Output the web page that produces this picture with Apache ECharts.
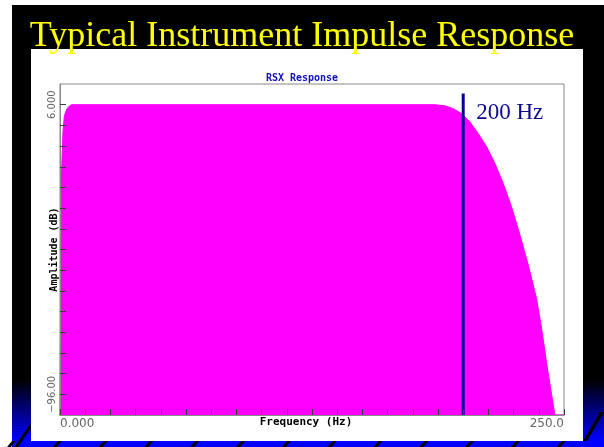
<!DOCTYPE html>
<html>
<head>
<meta charset="utf-8">
<title>Typical Instrument Impulse Response</title>
<script src="https://cdn.jsdelivr.net/npm/echarts@6.0.0/dist/echarts.min.js"></script>
<style>
  html, body { margin: 0; padding: 0; background: #fff; }
  #chart { width: 604px; height: 447px; }
</style>
</head>
<body>
<div id="chart"></div>
<script>
// response curve
var freqHz = [0, 0.35, 0.75, 1.15, 1.5, 2.2, 3.5, 5.0, 6.0, 186.0, 191.0, 195.1, 199.3, 203.4, 207.5, 211.7, 215.8, 219.9, 224.0, 228.2, 232.3, 236.4, 238.9, 241.3, 243.9, 245.5, 250];
var ampDb = [-103.3, -103.3, -18.3, -10.2, -3.0, 2.2, 4.7, 5.75, 6.0, 6.0, 5.6, 4.6, 2.8, -0.1, -4.2, -8.9, -14.8, -21.8, -30.0, -40.0, -50.5, -62.3, -72.8, -84.6, -96.3, -103.3, -103.3];

var markerHz = 200;
var markerTopDb = 9.9;
var markerLabel = '200 Hz';

var xTickLabels = [0, 250];
var xTickStep = 12.5;
var yTickLabels = [6, -96];
var yTickCount = 14;

var xTicks = [];
for (var t = xTickLabels[0]; t <= xTickLabels[1]; t += xTickStep) {
  xTicks.push(t);
}
var yStep = (yTickLabels[0] - yTickLabels[1]) / yTickCount;
var yMin = yTickLabels[1] - yStep;
var yMax = yTickLabels[0] + yStep;
var yTicks = [];
for (var i = 0; i <= yTickCount; i++) {
  yTicks.push(yTickLabels[1] + i * yStep);
}

var curve = freqHz.map(function (f, i) { return [f, ampDb[i]]; });

function fmt(v) {
  return Number(v).toPrecision(4).replace('-', '\u2212');
}

// slide decoration: black frame, blue corners, striped bottom edge
var deco = [
  { type: 'rect', z: -10, shape: { x: 12, y: 5, width: 592, height: 442 }, style: { fill: '#000' } },
  { type: 'rect', z: -9, shape: { x: 12, y: 380, width: 19, height: 61 },
    style: { fill: new echarts.graphic.LinearGradient(0, 0, 0, 1, [{ offset: 0, color: '#000' }, { offset: 1, color: '#0000ff' }]) } },
  { type: 'rect', z: -9, shape: { x: 583, y: 380, width: 21, height: 61 },
    style: { fill: new echarts.graphic.LinearGradient(0, 0, 0, 1, [{ offset: 0, color: '#000' }, { offset: 1, color: '#0000ff' }]) } },
  { type: 'rect', z: -9, shape: { x: 12, y: 441, width: 592, height: 6 }, style: { fill: '#0000ff' } }
];
for (var sx = 11; sx < 604; sx += 45.8) {
  deco.push({ type: 'polygon', z: -8, shape: { points: [[sx - 4, 447], [sx + 1, 441], [sx + 5, 441], [sx, 447]] }, style: { fill: '#000' } });
}
deco.push({ type: 'polygon', z: -8, shape: { points: [[14, 447], [31, 423], [31, 428], [18, 447]] }, style: { fill: '#000' } });
deco.push({ type: 'polygon', z: -8, shape: { points: [[583, 441], [600, 412], [604, 412], [587, 441]] }, style: { fill: '#000' } });
deco.push({ type: 'rect', z: -7, shape: { x: 31, y: 49, width: 552, height: 392 }, style: { fill: '#fff' } });

var chart = echarts.init(document.getElementById('chart'), null, { renderer: 'canvas' });

chart.setOption({
  animation: false,
  graphic: deco,
  title: [{
    text: 'Typical Instrument Impulse Response',
    left: 'center',
    top: 19,
    padding: [0, 0, 0, 15],
    textStyle: { color: '#ffff00', fontFamily: 'Liberation Serif', fontWeight: 'normal', fontSize: 36 }
  }, {
    text: 'RSX Response',
    left: 'center',
    top: 73,
    padding: [0, 0, 0, 10],
    textStyle: { color: '#1010c0', fontFamily: 'DejaVu Sans Mono', fontWeight: 'bold', fontSize: 10 }
  }],
  grid: {
    left: 60,
    right: 40,
    top: 84,
    bottom: 32,
    show: true,
    borderColor: '#888',
    borderWidth: 1,
    backgroundColor: 'transparent'
  },
  xAxis: {
    type: 'value',
    min: xTickLabels[0],
    max: xTickLabels[1],
    interval: xTickStep,
    z: 5,
    name: 'Frequency (Hz)',
    nameLocation: 'middle',
    nameGap: 2,
    nameMoveOverlap: false,
    nameTextStyle: { color: '#000', fontFamily: 'DejaVu Sans Mono', fontWeight: 'bold', fontSize: 11, padding: [0, 12, 0, 0] },
    axisLine: { show: true, onZero: false, lineStyle: { color: '#888', width: 1 } },
    axisTick: { show: true, inside: true, length: 6, customValues: xTicks, lineStyle: { color: '#3c3c3c', width: 1 } },
    axisLabel: {
      customValues: xTickLabels,
      margin: 3,
      color: '#666',
      fontFamily: 'DejaVu Sans',
      fontSize: 12,
      alignMinLabel: 'left',
      alignMaxLabel: 'right',
      formatter: fmt
    },
    splitLine: { show: false }
  },
  yAxis: {
    type: 'value',
    min: yMin,
    max: yMax,
    z: 5,
    name: 'Amplitude (dB)',
    nameLocation: 'middle',
    nameRotate: 90,
    nameGap: 1,
    nameMoveOverlap: false,
    nameTextStyle: { color: '#000', fontFamily: 'DejaVu Sans Mono', fontWeight: 'bold', fontSize: 10 },
    axisLine: { show: true, lineStyle: { color: '#888', width: 1 } },
    axisTick: { show: true, inside: true, length: 6, customValues: yTicks, lineStyle: { color: '#3c3c3c', width: 1 } },
    axisLabel: {
      customValues: yTickLabels,
      rotate: 90,
      margin: 3,
      color: '#666',
      fontFamily: 'DejaVu Sans',
      fontSize: 10,
      formatter: fmt
    },
    splitLine: { show: false }
  },
  series: [{
    name: 'RSX Response',
    type: 'line',
    data: curve,
    showSymbol: false,
    z: 2,
    lineStyle: { color: '#ff00ff', width: 1 },
    itemStyle: { color: '#ff00ff' },
    areaStyle: { color: '#ff00ff', opacity: 1, origin: 'start' }
  }, {
    name: markerLabel,
    type: 'line',
    data: [[markerHz, yMin], [markerHz, markerTopDb]],
    showSymbol: false,
    symbol: 'none',
    z: 3,
    lineStyle: { color: '#000099', width: 3 },
    endLabel: {
      show: true,
      distance: 0,
      offset: [13, 19],
      formatter: markerLabel,
      color: '#0a0a90',
      fontFamily: 'Liberation Serif',
      fontSize: 23
    }
  }]
});
</script>
</body>
</html>
